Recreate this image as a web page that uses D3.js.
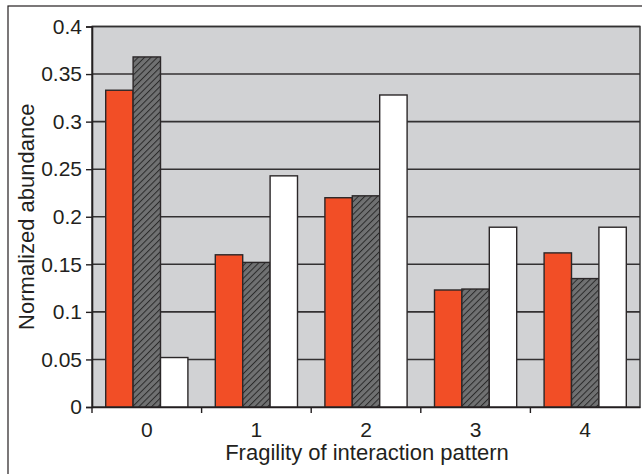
<!DOCTYPE html>
<html lang="en">
<head>
<meta charset="UTF-8">
<title>Normalized abundance</title>
<style>
  body { margin: 0; background: #fff; }
  svg { display: block; font-family: "Liberation Sans", Arial, sans-serif; }
</style>
</head>
<body>
<svg></svg>
<script src="https://cdn.jsdelivr.net/npm/d3@7"></script>
<script>
const categories = ['0', '1', '2', '3', '4'];
const seriesNames = ['solid', 'hatched', 'open'];
const solid   = [0.333, 0.160, 0.220, 0.123, 0.162];
const hatched = [0.368, 0.152, 0.222, 0.124, 0.135];
const open    = [0.052, 0.243, 0.328, 0.189, 0.189];
const yTicks = [0, 0.05, 0.1, 0.15, 0.2, 0.25, 0.3, 0.35, 0.4];

const W = 642, H = 474;
const margin = { top: 26.5, right: 2, bottom: 67, left: 92 };
const width = W - margin.left - margin.right;
const height = H - margin.top - margin.bottom;
const fs = 21;

const rows = categories.map((c, i) => ({
  cat: c,
  vals: [solid[i], hatched[i], open[i]]
}));

const x = d3.scaleBand().domain(categories).range([0, width]).paddingInner(0).paddingOuter(0);
// gap width 100% -> 3 bars + 1 bar-width gap per band
const barW = x.bandwidth() / 4;
const xs = d3.scaleBand().domain(seriesNames).range([barW / 2, x.bandwidth() - barW / 2]);

const y = d3.scaleLinear().domain([0, 0.4]).range([height, 0]);

const svg = d3.select('svg').attr('width', W).attr('height', H);

// hatch pattern
const defs = svg.append('defs');
const pat = defs.append('pattern')
  .attr('id', 'hatch')
  .attr('patternUnits', 'userSpaceOnUse')
  .attr('width', 4.5).attr('height', 4.5)
  .attr('patternTransform', 'rotate(45)');
pat.append('rect').attr('width', 4.5).attr('height', 4.5).attr('fill', '#707172');
pat.append('line').attr('x1', 0).attr('y1', 0).attr('x2', 0).attr('y2', 4.5)
  .attr('stroke', '#2a2a2a').attr('stroke-width', 2);

const fills = { solid: '#f24e26', hatched: 'url(#hatch)', open: '#ffffff' };

// outer frame
svg.append('rect')
  .attr('x', 8).attr('y', 6).attr('width', W + 20).attr('height', H + 20)
  .attr('fill', 'none').attr('stroke', '#231f20').attr('stroke-width', 1.2);

const g = svg.append('g').attr('transform', `translate(${margin.left},${margin.top})`);

// plot background
g.append('rect')
  .attr('width', width).attr('height', height)
  .attr('fill', '#d1d2d4')
  .attr('stroke', '#3a3a3a').attr('stroke-width', 1.5);

// gridlines
g.selectAll('.grid')
  .data(yTicks.filter(t => t > 0))
  .enter().append('line')
  .attr('x1', 0).attr('x2', width)
  .attr('y1', d => y(d)).attr('y2', d => y(d))
  .attr('stroke', '#333132').attr('stroke-width', 1.6);

// bars
const grp = g.selectAll('.grp')
  .data(rows)
  .enter().append('g')
  .attr('transform', d => `translate(${x(d.cat)},0)`);

grp.selectAll('rect')
  .data(d => d.vals.map((v, i) => ({ key: seriesNames[i], v })))
  .enter().append('rect')
  .attr('x', d => xs(d.key))
  .attr('y', d => y(d.v))
  .attr('width', xs.bandwidth())
  .attr('height', d => height - y(d.v))
  .attr('fill', d => fills[d.key])
  .attr('stroke', '#2b2728').attr('stroke-width', 1.4);

// y axis
const yAxis = g.append('g')
  .call(d3.axisLeft(y).tickValues(yTicks).tickSize(6).tickPadding(4).tickFormat(d => d3.format('')(+d.toFixed(2))));
yAxis.select('.domain').attr('stroke', '#231f20').attr('stroke-width', 1.6);
yAxis.selectAll('.tick line').attr('stroke', '#231f20').attr('stroke-width', 1.4);
yAxis.selectAll('.tick text').attr('font-size', fs).attr('fill', '#231f20')
  .attr('font-family', '"Liberation Sans", Arial, sans-serif');

// x axis
const xAxis = g.append('g').attr('transform', `translate(0,${height})`)
  .call(d3.axisBottom(x).tickSize(0).tickPadding(15));
xAxis.select('.domain').attr('stroke', '#231f20').attr('stroke-width', 1.6);
xAxis.selectAll('.tick text').attr('font-size', fs).attr('fill', '#231f20')
  .attr('font-family', '"Liberation Sans", Arial, sans-serif');

// x ticks at band boundaries
g.selectAll('.xb')
  .data(categories)
  .enter().append('line')
  .attr('x1', d => x(d)).attr('x2', d => x(d))
  .attr('y1', height).attr('y2', height + 6)
  .attr('stroke', '#231f20').attr('stroke-width', 1.4);

// axis titles
svg.append('text')
  .attr('x', margin.left + width / 2 + 1).attr('y', 460)
  .attr('text-anchor', 'middle').attr('font-size', 22).attr('fill', '#231f20')
  .text('Fragility of interaction pattern');

svg.append('text')
  .attr('transform', `translate(34,${margin.top + height / 2}) rotate(-90)`)
  .attr('text-anchor', 'middle').attr('font-size', 22).attr('fill', '#231f20')
  .text('Normalized abundance');
</script>
</body>
</html>
